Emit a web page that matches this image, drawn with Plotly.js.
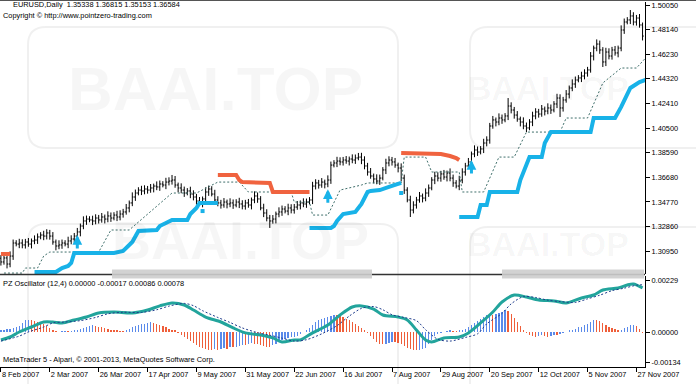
<!DOCTYPE html>
<html><head><meta charset="utf-8">
<script src="https://cdn.plot.ly/plotly-3.0.1.min.js"></script>
<style>html,body{margin:0;padding:0;background:#fff;}#chart{width:696px;height:384px;}</style>
</head><body><div id="chart"></div>
<script>
// ---------- DATA ----------
const dateLabels = ["8 Feb 2007","2 Mar 2007","26 Mar 2007","17 Apr 2007","9 May 2007","31 May 2007","22 Jun 2007","16 Jul 2007","7 Aug 2007","29 Aug 2007","20 Sep 2007","12 Oct 2007","5 Nov 2007","27 Nov 2007"];
const dateTickIdx = [0,16,32,48,64,80,96,112,128,144,160,176,192,208];
const priceTicks = [1.3095,1.3286,1.3477,1.3668,1.3859,1.4050,1.4241,1.4432,1.4623,1.4814,1.5005];
const oscTicks = [-0.00134,0,0.00229];

const openP = [1.3040,1.3011,1.3042,1.2995,1.3057,1.3158,1.3150,1.3158,1.3143,1.3166,
1.3150,1.3174,1.3181,1.3205,1.3220,1.3212,1.3236,1.3212,1.3166,1.3135,
1.3143,1.3158,1.3150,1.3174,1.3189,1.3212,1.3244,1.3290,1.3329,1.3344,
1.3337,1.3329,1.3352,1.3337,1.3360,1.3344,1.3368,1.3352,1.3375,1.3360,
1.3383,1.3399,1.3430,1.3469,1.3515,1.3546,1.3569,1.3562,1.3577,1.3569,
1.3585,1.3600,1.3593,1.3616,1.3608,1.3631,1.3639,1.3647,1.3608,1.3585,
1.3569,1.3546,1.3562,1.3538,1.3515,1.3484,1.3469,1.3500,1.3554,1.3577,
1.3538,1.3492,1.3469,1.3453,1.3476,1.3461,1.3469,1.3453,1.3476,1.3461,
1.3445,1.3469,1.3453,1.3492,1.3523,1.3500,1.3430,1.3391,1.3352,1.3329,
1.3344,1.3383,1.3399,1.3422,1.3406,1.3430,1.3414,1.3437,1.3453,1.3469,
1.3461,1.3476,1.3492,1.3600,1.3624,1.3608,1.3631,1.3616,1.3647,1.3763,
1.3779,1.3794,1.3787,1.3802,1.3794,1.3810,1.3802,1.3818,1.3825,1.3802,
1.3756,1.3709,1.3678,1.3655,1.3639,1.3662,1.3725,1.3779,1.3802,1.3787,
1.3763,1.3740,1.3662,1.3569,1.3492,1.3414,1.3453,1.3492,1.3523,1.3507,
1.3546,1.3585,1.3647,1.3678,1.3662,1.3694,1.3670,1.3701,1.3662,1.3624,
1.3600,1.3647,1.3709,1.3756,1.3787,1.3849,1.3880,1.3864,1.3888,1.3934,
1.3957,1.4066,1.4113,1.4097,1.4128,1.4113,1.4144,1.4221,1.4190,1.4151,
1.4120,1.4097,1.4066,1.4051,1.4097,1.4144,1.4175,1.4159,1.4198,1.4182,
1.4206,1.4190,1.4237,1.4283,1.4206,1.4268,1.4314,1.4361,1.4392,1.4423,
1.4439,1.4454,1.4477,1.4501,1.4609,1.4671,1.4702,1.4656,1.4563,1.4640,
1.4609,1.4656,1.4633,1.4671,1.4811,1.4873,1.4889,1.4920,1.4873,1.4904,
1.4850];
const highP = [1.3064,1.3073,1.3061,1.3093,1.3185,1.3180,1.3191,1.3187,1.3190,1.3197,
1.3193,1.3217,1.3232,1.3242,1.3253,1.3265,1.3260,1.3243,1.3185,1.3179,
1.3185,1.3180,1.3207,1.3218,1.3236,1.3275,1.3309,1.3365,1.3371,1.3366,
1.3370,1.3381,1.3376,1.3391,1.3379,1.3404,1.3395,1.3397,1.3408,1.3412,
1.3423,1.3461,1.3488,1.3551,1.3573,1.3591,1.3602,1.3606,1.3601,1.3616,
1.3619,1.3636,1.3643,1.3638,1.3664,1.3668,1.3686,1.3678,1.3627,1.3621,
1.3596,1.3584,1.3595,1.3567,1.3539,1.3515,1.3519,1.3590,1.3604,1.3599,
1.3571,1.3521,1.3493,1.3507,1.3495,1.3505,1.3496,1.3498,1.3509,1.3490,
1.3493,1.3500,1.3511,1.3559,1.3550,1.3522,1.3463,1.3420,1.3376,1.3375,
1.3402,1.3435,1.3449,1.3444,1.3463,1.3459,1.3461,1.3484,1.3488,1.3505,
1.3503,1.3514,1.3633,1.3653,1.3648,1.3662,1.3650,1.3683,1.3790,1.3801,
1.3827,1.3823,1.3826,1.3833,1.3829,1.3846,1.3845,1.3857,1.3858,1.3831,
1.3780,1.3740,1.3697,1.3691,1.3689,1.3747,1.3812,1.3831,1.3826,1.3818,
1.3782,1.3776,1.3689,1.3591,1.3525,1.3482,1.3516,1.3554,1.3542,1.3582,
1.3612,1.3669,1.3711,1.3707,1.3718,1.3725,1.3720,1.3737,1.3689,1.3646,
1.3680,1.3738,1.3780,1.3818,1.3868,1.3916,1.3907,1.3910,1.3967,1.3986,
1.4090,1.4144,1.4132,1.4164,1.4155,1.4166,1.4283,1.4250,1.4214,1.4182,
1.4139,1.4133,1.4093,1.4119,1.4177,1.4204,1.4199,1.4229,1.4217,1.4242,
1.4233,1.4259,1.4316,1.4312,1.4292,1.4345,1.4380,1.4428,1.4450,1.4461,
1.4487,1.4506,1.4525,1.4640,1.4690,1.4738,1.4729,1.4678,1.4673,1.4669,
1.4680,1.4687,1.4690,1.4847,1.4900,1.4911,1.4966,1.4949,1.4928,1.4935,
1.4869];
const lowP = [1.2983,1.2990,1.2961,1.2970,1.3027,1.3132,1.3118,1.3117,1.3115,1.3129,
1.3116,1.3149,1.3151,1.3187,1.3180,1.3186,1.3184,1.3145,1.3101,1.3110,
1.3113,1.3132,1.3118,1.3148,1.3161,1.3191,1.3210,1.3265,1.3299,1.3319,
1.3297,1.3303,1.3309,1.3316,1.3310,1.3319,1.3322,1.3334,1.3328,1.3334,
1.3355,1.3378,1.3396,1.3444,1.3485,1.3528,1.3530,1.3536,1.3541,1.3548,
1.3551,1.3568,1.3563,1.3590,1.3576,1.3605,1.3611,1.3587,1.3551,1.3544,
1.3516,1.3528,1.3506,1.3489,1.3456,1.3448,1.3435,1.3475,1.3524,1.3520,
1.3460,1.3443,1.3425,1.3432,1.3427,1.3436,1.3423,1.3435,1.3429,1.3419,
1.3417,1.3432,1.3419,1.3467,1.3470,1.3412,1.3359,1.3326,1.3275,1.3308,
1.3310,1.3358,1.3369,1.3388,1.3374,1.3388,1.3386,1.3416,1.3419,1.3436,
1.3431,1.3458,1.3460,1.3574,1.3580,1.3587,1.3582,1.3591,1.3617,1.3745,
1.3747,1.3761,1.3759,1.3773,1.3760,1.3777,1.3772,1.3800,1.3770,1.3730,
1.3681,1.3657,1.3621,1.3614,1.3609,1.3644,1.3693,1.3753,1.3759,1.3742,
1.3706,1.3637,1.3539,1.3474,1.3360,1.3388,1.3425,1.3471,1.3473,1.3482,
1.3516,1.3567,1.3615,1.3636,1.3634,1.3649,1.3636,1.3637,1.3594,1.3582,
1.3568,1.3621,1.3681,1.3735,1.3753,1.3824,1.3834,1.3846,1.3856,1.3908,
1.3929,1.4045,1.4063,1.4072,1.4083,1.4095,1.4112,1.4164,1.4123,1.4099,
1.4063,1.4041,1.4019,1.4033,1.4065,1.4118,1.4131,1.4138,1.4148,1.4157,
1.4160,1.4172,1.4205,1.4136,1.4178,1.4247,1.4280,1.4336,1.4362,1.4405,
1.4407,1.4428,1.4449,1.4480,1.4575,1.4646,1.4626,1.4524,1.4531,1.4583,
1.4581,1.4612,1.4599,1.4646,1.4781,1.4855,1.4857,1.4847,1.4845,1.4829,
1.4730];
const closeP = [1.3011,1.3042,1.2995,1.3057,1.3158,1.3150,1.3158,1.3143,1.3166,1.3150,
1.3174,1.3181,1.3205,1.3220,1.3212,1.3236,1.3212,1.3166,1.3135,1.3143,
1.3158,1.3150,1.3174,1.3189,1.3212,1.3244,1.3290,1.3329,1.3344,1.3337,
1.3329,1.3352,1.3337,1.3360,1.3344,1.3368,1.3352,1.3375,1.3360,1.3383,
1.3399,1.3430,1.3469,1.3515,1.3546,1.3569,1.3562,1.3577,1.3569,1.3585,
1.3600,1.3593,1.3616,1.3608,1.3631,1.3639,1.3647,1.3608,1.3585,1.3569,
1.3546,1.3562,1.3538,1.3515,1.3484,1.3469,1.3500,1.3554,1.3577,1.3538,
1.3492,1.3469,1.3453,1.3476,1.3461,1.3469,1.3453,1.3476,1.3461,1.3445,
1.3469,1.3453,1.3492,1.3523,1.3500,1.3430,1.3391,1.3352,1.3329,1.3344,
1.3383,1.3399,1.3422,1.3406,1.3430,1.3414,1.3437,1.3453,1.3469,1.3461,
1.3476,1.3492,1.3600,1.3624,1.3608,1.3631,1.3616,1.3647,1.3763,1.3779,
1.3794,1.3787,1.3802,1.3794,1.3810,1.3802,1.3818,1.3825,1.3802,1.3756,
1.3709,1.3678,1.3655,1.3639,1.3662,1.3725,1.3779,1.3802,1.3787,1.3763,
1.3740,1.3662,1.3569,1.3492,1.3414,1.3453,1.3492,1.3523,1.3507,1.3546,
1.3585,1.3647,1.3678,1.3662,1.3694,1.3670,1.3701,1.3662,1.3624,1.3600,
1.3647,1.3709,1.3756,1.3787,1.3849,1.3880,1.3864,1.3888,1.3934,1.3957,
1.4066,1.4113,1.4097,1.4128,1.4113,1.4144,1.4221,1.4190,1.4151,1.4120,
1.4097,1.4066,1.4051,1.4097,1.4144,1.4175,1.4159,1.4198,1.4182,1.4206,
1.4190,1.4237,1.4283,1.4206,1.4268,1.4314,1.4361,1.4392,1.4423,1.4439,
1.4454,1.4477,1.4501,1.4609,1.4671,1.4702,1.4656,1.4563,1.4640,1.4609,
1.4656,1.4633,1.4671,1.4811,1.4873,1.4889,1.4920,1.4873,1.4904,1.4850,
1.4764];

// trailing support (blue) segments: bar index / price
const support1Idx = [11,18,20,22,23,24,37,40,43,45,51,52,54,56,61,62,64,65,71];
const support1Val = [1.2933,1.2933,1.2964,1.2980,1.3003,1.3081,1.3081,1.3096,1.3166,1.3251,1.3259,1.3290,1.3313,1.3337,1.3337,1.3383,1.3430,1.3469,1.3469];
const support2Idx = [101,108,109,110,112,116,118,120,121,124,127,131];
const support2Val = [1.3275,1.3275,1.3290,1.3329,1.3383,1.3399,1.3461,1.3554,1.3562,1.3569,1.3593,1.3624];
const support3Idx = [150,156,157,159,160,169,170,173,177,178,180,193,194,201,203,206,209,211];
const support3Val = [1.3360,1.3360,1.3453,1.3453,1.3554,1.3554,1.3647,1.3825,1.3825,1.3934,1.4019,1.4019,1.4128,1.4128,1.4214,1.4361,1.4407,1.4423];
// trailing resistance (red) segments
const resist0Idx = [0,3];
const resist0Val = [1.3073,1.3073];
const resist1Idx = [71,77,78,79,88,89,101];
const resist1Val = [1.3686,1.3686,1.3647,1.3631,1.3624,1.3554,1.3554];
const resist2Idx = [131,144,147,149,150];
const resist2Val = [1.3857,1.3849,1.3833,1.3818,1.3802];
// dotted trailing line
const trailIdx = [1,7,8,12,14,16,32,36,42,52,56,64,67,71,78,81,95,96,101,102,107,111,118,120,131,132,139,141,150,151,158,163,168,172,183,185,192,197,203,208,211];
const trailVal = [1.2925,1.2925,1.2964,1.2964,1.3057,1.3088,1.3088,1.3259,1.3259,1.3469,1.3546,1.3546,1.3585,1.3631,1.3631,1.3554,1.3554,1.3476,1.3476,1.3375,1.3375,1.3569,1.3608,1.3624,1.3624,1.3825,1.3825,1.3709,1.3709,1.3554,1.3554,1.3825,1.3825,1.4019,1.4019,1.4128,1.4128,1.4400,1.4516,1.4516,1.4594];
// buy arrows and dots
const arrowIdx = [25,107,154];
const arrowVal = [1.3220,1.3576,1.3802];
const dotIdx = [66,131];
const dotVal = [1.3406,1.3546];

// PZ oscillator
const oscHist = [0.00009,0.00011,0.00013,0.00015,0.00018,0.00022,0.00026,0.00040,0.00053,0.00055,
0.00053,0.00048,0.00046,0.00044,0.00035,0.00026,0.00018,0.00009,0.00004,0.00002,
0.00003,0.00004,0.00003,0.00004,0.00007,0.00009,0.00013,0.00018,0.00022,0.00026,
0.00029,0.00026,0.00022,0.00020,0.00018,0.00013,0.00011,0.00009,0.00007,0.00004,
0.00003,0.00009,0.00013,0.00020,0.00026,0.00031,0.00035,0.00037,0.00040,0.00042,
0.00040,0.00035,0.00031,0.00026,0.00022,0.00015,0.00011,0.00007,-0.00004,-0.00013,
-0.00022,-0.00031,-0.00040,-0.00048,-0.00057,-0.00066,-0.00070,-0.00075,-0.00079,-0.00080,
-0.00077,-0.00079,-0.00075,-0.00070,-0.00073,-0.00066,-0.00068,-0.00066,-0.00062,-0.00057,
-0.00059,-0.00053,-0.00048,-0.00051,-0.00053,-0.00057,-0.00062,-0.00064,-0.00066,-0.00057,
-0.00053,-0.00044,-0.00035,-0.00031,-0.00026,-0.00024,-0.00022,-0.00018,-0.00009,0.00002,
0.00009,0.00018,0.00031,0.00044,0.00053,0.00057,0.00062,0.00066,0.00070,0.00075,
0.00073,0.00070,0.00066,0.00059,0.00053,0.00044,0.00035,0.00026,0.00018,0.00009,
-0.00004,-0.00018,-0.00031,-0.00044,-0.00053,-0.00055,-0.00053,-0.00048,-0.00044,-0.00046,
-0.00048,-0.00053,-0.00062,-0.00070,-0.00075,-0.00079,-0.00081,-0.00079,-0.00075,-0.00070,
-0.00053,-0.00035,-0.00018,-0.00009,-0.00004,0.00002,0.00004,0.00007,0.00005,0.00004,
0.00007,0.00009,0.00013,0.00022,0.00031,0.00040,0.00048,0.00057,0.00066,0.00075,
0.00079,0.00077,0.00081,0.00084,0.00088,0.00097,0.00092,0.00079,0.00062,0.00044,
0.00026,0.00009,-0.00004,-0.00013,-0.00018,-0.00020,-0.00018,-0.00015,-0.00018,-0.00022,
-0.00018,-0.00013,-0.00015,-0.00009,-0.00004,0.00002,0.00007,0.00011,0.00015,0.00020,
0.00024,0.00029,0.00035,0.00044,0.00053,0.00051,0.00048,0.00040,0.00031,0.00022,
0.00018,0.00013,0.00009,0.00011,0.00018,0.00024,0.00031,0.00033,0.00026,0.00015,
-0.00004];
const oscLineIdx = [0,3,6,10,14,17,20,24,28,32,37,43,48,52,56,60,63,67,72,76,80,85,89,92,96,98,102,107,111,115,118,122,125,130,133,136,139,141,145,150,153,157,161,164,168,172,176,181,185,190,194,197,202,205,207,210];
const oscLineVal = [-0.00035,-0.00022,0,0.00022,0.00044,0.00044,0.00040,0.00053,0.00066,0.00084,0.00088,0.00084,0.00097,0.00115,0.00128,0.00119,0.00097,0.00066,0.00044,0.00018,-0.00004,-0.00013,-0.00026,-0.00044,-0.00035,-0.00035,-0.00004,0.00031,0.00075,0.00110,0.00115,0.00101,0.00075,0.00066,0.00053,0.00009,-0.00035,-0.00044,-0.00026,-0.00022,-0.00004,0.00040,0.00088,0.00132,0.00163,0.00154,0.00141,0.00137,0.00128,0.00150,0.00163,0.00185,0.00194,0.00207,0.00211,0.00194];
const oscSignalIdx = [0,6,9,14,17,21,26,31,35,40,46,51,55,60,63,66,71,75,79,84,88,92,96,100,105,110,114,118,122,125,128,132,136,139,143,147,152,156,159,164,167,171,175,179,183,188,192,196,200,204,208,210];
const oscSignalVal = [-0.00040,-0.00018,0,0.00022,0.00040,0.00044,0.00050,0.00064,0.00080,0.00087,0.00086,0.00098,0.00114,0.00126,0.00116,0.00094,0.00064,0.00042,0.00018,-0.00003,-0.00014,-0.00027,-0.00040,-0.00034,-0.00008,0.00028,0.00070,0.00104,0.00112,0.00098,0.00076,0.00064,0.00050,0.00010,-0.00032,-0.00040,-0.00024,-0.00008,0.00036,0.00082,0.00124,0.00156,0.00152,0.00140,0.00134,0.00130,0.00146,0.00162,0.00182,0.00193,0.00206,0.00208];

// ---------- LAYOUT HELPERS ----------
const W = 696, H = 384, ML = 0, MR = 51, MT = 0, MB = 17;
const PW = W - ML - MR, PH = H - MT - MB;
const px = x => x / PW;
const py = y => 1 - y / PH;
const FONT = '"Liberation Sans", Arial, sans-serif';
const FS = 7.4;
const BLUE = '#18B2E8', RED = '#F0633F';
const barIdx = closeP.map((_, i) => i);

const traces = [];
traces.push({type:'ohlc', x:barIdx, open:openP, high:highP, low:lowP, close:closeP,
  increasing:{line:{color:'#000', width:1}}, decreasing:{line:{color:'#000', width:1}},
  tickwidth:0.4, hoverinfo:'skip', xaxis:'x', yaxis:'y', showlegend:false});
traces.push({type:'scatter', mode:'lines', x:trailIdx, y:trailVal, line:{color:'#3f6f6b', width:1, dash:'2px,2px'}, hoverinfo:'skip', showlegend:false});
[[support1Idx,support1Val],[support2Idx,support2Val],[support3Idx,support3Val]].forEach(s=>{
  traces.push({type:'scatter', mode:'lines', x:s[0], y:s[1], line:{color:BLUE, width:4}, hoverinfo:'skip', showlegend:false});
});
[[resist0Idx,resist0Val],[resist1Idx,resist1Val],[resist2Idx,resist2Val]].forEach(s=>{
  traces.push({type:'scatter', mode:'lines', x:s[0], y:s[1], line:{color:RED, width:4}, hoverinfo:'skip', showlegend:false});
});
traces.push({type:'scatter', mode:'markers', x:dotIdx, y:dotVal, marker:{symbol:'square', size:4, color:BLUE}, hoverinfo:'skip', showlegend:false});

const histColors = oscHist.map((v,i) => (i === 0 || v >= oscHist[i-1]) ? '#5A8AEA' : '#EF5E3A');
traces.push({type:'bar', x:barIdx, y:oscHist, width:0.42, marker:{color:histColors, line:{width:0}}, xaxis:'x', yaxis:'y2', hoverinfo:'skip', showlegend:false});
traces.push({type:'scatter', mode:'lines', x:oscLineIdx, y:oscLineVal, line:{color:'#22A49C', width:3, shape:'spline', smoothing:0.8}, xaxis:'x', yaxis:'y2', hoverinfo:'skip', showlegend:false});
traces.push({type:'scatter', mode:'lines', x:oscSignalIdx, y:oscSignalVal, line:{color:'#1E3C8C', width:1, dash:'2px,2px', shape:'spline', smoothing:0.8}, xaxis:'x', yaxis:'y2', hoverinfo:'skip', showlegend:false});

const txt = (t, x, y) => ({text:t, xref:'paper', yref:'paper', x:px(x), y:py(y), xanchor:'left', yanchor:'middle', showarrow:false, font:{family:FONT, size:FS, color:'#000'}});
const wm = (x, y, s) => ({text:'<b>BAAI.TOP</b>', xref:'paper', yref:'paper', x:px(x), y:py(y), xanchor:'center', yanchor:'middle', showarrow:false, font:{family:FONT, size:s||62, color:'rgba(0,0,0,0.035)'}});

const annotations = [
  wm(215, 88), wm(240, 240, 54), wm(548, 88, 34), wm(548, 244, 34),
  txt('EURUSD,Daily\u00A0 1.35338 1.36815 1.35153 1.36584', 11, 5),
  txt('Copyright \u00A9 http://www.pointzero-trading.com', 1, 15),
  txt('PZ Oscillator (12,4) 0.00000 -0.00017 0.00086 0.00078', 1, 283),
  txt('MetaTrader 5 - Alpari, \u00A9 2001-2013, MetaQuotes Software Corp.', 1, 359)
];
arrowIdx.forEach((xi,k)=>{
  annotations.push({x:xi, y:arrowVal[k], xref:'x', yref:'y', ax:0, ay:15, text:'', showarrow:true,
    arrowhead:2, arrowsize:0.65, arrowwidth:3, arrowcolor:BLUE, standoff:0});
});

function rrect(x0,y0,x1,y1,r){
  const X=v=>px(v), Y=v=>py(v);
  return `M${X(x0+r)},${Y(y0)} L${X(x1-r)},${Y(y0)} Q${X(x1)},${Y(y0)} ${X(x1)},${Y(y0+r)} L${X(x1)},${Y(y1-r)} Q${X(x1)},${Y(y1)} ${X(x1-r)},${Y(y1)} L${X(x0+r)},${Y(y1)} Q${X(x0)},${Y(y1)} ${X(x0)},${Y(y1-r)} L${X(x0)},${Y(y0+r)} Q${X(x0)},${Y(y0)} ${X(x0+r)},${Y(y0)} Z`;
}
const shapes = [
  {type:'path', xref:'paper', yref:'paper', path:rrect(28,27,398,148,18), line:{color:'rgba(0,0,0,0.06)', width:2}, layer:'below'},
  {type:'path', xref:'paper', yref:'paper', path:rrect(470,27,760,148,18), line:{color:'rgba(0,0,0,0.06)', width:2}, layer:'below'},
  {type:'path', xref:'paper', yref:'paper', path:rrect(28,224,398,420,18), line:{color:'rgba(0,0,0,0.06)', width:2}, layer:'below'},
  {type:'path', xref:'paper', yref:'paper', path:rrect(470,227,760,420,18), line:{color:'rgba(0,0,0,0.06)', width:2}, layer:'below'},
  {type:'line', xref:'paper', yref:'paper', x0:0, x1:px(W), y0:py(0.5), y1:py(0.5), line:{color:'#555', width:1}},
  {type:'line', xref:'paper', yref:'paper', x0:0, x1:1, y0:py(274.5), y1:py(274.5), line:{color:'#333', width:1.5}},
  {type:'rect', xref:'paper', yref:'paper', x0:px(112), x1:px(372), y0:py(278.5), y1:py(269.5), fillcolor:'rgba(205,205,205,0.9)', line:{width:0}, layer:'above'},
  {type:'rect', xref:'paper', yref:'paper', x0:px(502), x1:px(644), y0:py(278.5), y1:py(269.5), fillcolor:'rgba(205,205,205,0.9)', line:{width:0}, layer:'above'}
];

const tickFont = {family:FONT, size:FS, color:'#000'};
const layout = {
  width:W, height:H, margin:{l:ML, r:MR, t:MT, b:MB, pad:0},
  paper_bgcolor:'#fff', plot_bgcolor:'#fff', showlegend:false, bargap:0,
  xaxis:{domain:[0,1], anchor:'y2', range:[-0.3,210.8], tickmode:'array', tickvals:dateTickIdx, ticktext:dateLabels,
    ticks:'outside', ticklen:4, tickcolor:'#000', showline:true, linecolor:'#000', linewidth:1, showgrid:false, zeroline:false,
    tickangle:0, automargin:false, ticklabelposition:'outside right', tickfont:tickFont, rangeslider:{visible:false}, fixedrange:true},
  yaxis:{domain:[py(274), py(2)], anchor:'x', side:'right', range:[1.29176,1.50283], tickmode:'array', tickvals:priceTicks,
    ticktext:priceTicks.map(v=>v.toFixed(5)), ticks:'outside', ticklen:4, tickcolor:'#000', showline:true, linecolor:'#000',
    linewidth:1, showgrid:false, zeroline:false, tickfont:tickFont, automargin:false, fixedrange:true},
  yaxis2:{domain:[0, py(276)], anchor:'x', side:'right', range:[-0.001541,0.002466], tickmode:'array', tickvals:oscTicks,
    ticktext:oscTicks.map(v=>v.toFixed(5)), ticks:'outside', ticklen:4, tickcolor:'#000', showline:true, linecolor:'#000',
    linewidth:1, showgrid:false, zeroline:false, tickfont:tickFont, automargin:false, fixedrange:true},
  annotations:annotations, shapes:shapes
};
Plotly.newPlot('chart', traces, layout, {staticPlot:true, displayModeBar:false});
</script>
</body></html>
